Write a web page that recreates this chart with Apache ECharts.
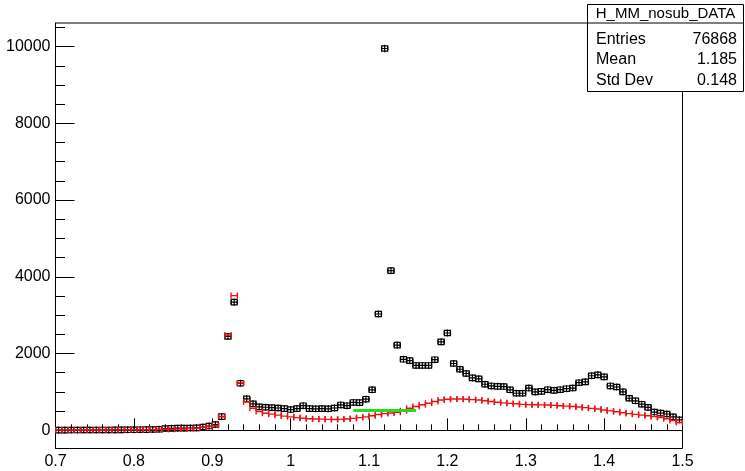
<!DOCTYPE html>
<html><head><meta charset="utf-8">
<script src="https://cdn.jsdelivr.net/npm/echarts@6/dist/echarts.min.js"></script>
<style>html,body{margin:0;padding:0;background:#fff}#c{width:745px;height:471px}</style>
</head><body><div id="c"></div>
<script>
// Histogram binning
const binLow = 0.7;
const binWidth = 0.008;

// Black points: H_MM_nosub_DATA (counts per bin, 100 bins from 0.7 to 1.5)
const dataCounts = [
  5,5,6,6,7,7,8,8,9,10,
  11,12,13,15,17,20,25,45,50,55,
  55,58,62,85,110,150,355,2445,3340,1225,
  820,690,610,600,590,580,565,540,565,640,
  565,560,565,560,580,660,640,725,720,810,
  1055,3030,9950,4160,2220,1850,1815,1690,1690,1690,
  1840,2305,2535,1740,1590,1480,1365,1340,1200,1155,
  1145,1140,1055,965,965,1100,1000,1013,1057,1040,
  1057,1083,1100,1240,1262,1421,1444,1392,1155,1128,
  1000,835,768,680,596,475,448,424,350,272
];

// Red histogram (counts per bin)
const refCounts = [
  5,5,6,6,7,7,8,8,9,10,
  11,12,13,14,15,17,19,25,28,31,
  35,42,55,75,100,125,360,2480,3510,1235,
  735,575,490,445,420,395,370,350,330,315,
  300,295,290,285,282,285,295,310,330,350,
  380,410,435,450,470,510,575,620,665,705,
  750,790,810,815,815,810,800,790,770,750,
  730,715,700,690,675,668,665,662,658,650,
  640,630,618,605,590,572,553,530,505,482,
  458,435,415,395,378,355,330,300,255,205
];

// Green line
const greenX = [1.08, 1.16];
const greenY = [515, 515];

// Axis ticks
const yTickValues = [0, 2000, 4000, 6000, 8000, 10000];
const yMinorTicks = [500,1000,1500,2500,3000,3500,4500,5000,5500,6500,7000,7500,8500,9000,9500,10500];

// Stats box
const statsTitle = 'H_MM_nosub_DATA';
const statsNames = ['Entries', 'Mean', 'Std Dev'];
const statsValues = ['76868', '1.185', '0.148'];

const blackData = dataCounts.map((v, i) => [binLow + binWidth * (i + 0.5), v, Math.sqrt(v)]);
const redData = refCounts.map((v, i) => [binLow + binWidth * (i + 0.5), v]);
const greenData = greenX.map((x, i) => [x, greenY[i]]);

const FONT = '"Liberation Sans", Arial, Helvetica, sans-serif';

function renderRed(params, api) {
  const x = api.value(0), y = api.value(1);
  const pL = api.coord([x - binWidth / 2, y]);
  const pR = api.coord([x + binWidth / 2, y]);
  const st = { stroke: '#ee1111', lineWidth: 1.4 };
  return { type: 'group', children: [
    { type: 'line', shape: { x1: pL[0], y1: pL[1], x2: pR[0], y2: pR[1] }, style: st },
    { type: 'line', shape: { x1: pL[0], y1: pL[1] - 3, x2: pL[0], y2: pL[1] + 3 }, style: st },
    { type: 'line', shape: { x1: pR[0], y1: pR[1] - 3, x2: pR[0], y2: pR[1] + 3 }, style: st }
  ]};
}

function renderBlack(params, api) {
  const x = api.value(0), y = api.value(1), e = api.value(2);
  const pL = api.coord([x - binWidth / 2, y]);
  const pR = api.coord([x + binWidth / 2, y]);
  const pC = api.coord([x, y]);
  const pT = api.coord([x, y + e]);
  const pB = api.coord([x, y - e]);
  const st = { stroke: '#000', lineWidth: 1.2 };
  const top = Math.min(pT[1], pC[1] - 3.5), bot = Math.max(pB[1], pC[1] + 3.5);
  return { type: 'group', children: [
    { type: 'line', shape: { x1: pL[0], y1: pL[1], x2: pR[0], y2: pR[1] }, style: st },
    { type: 'line', shape: { x1: pL[0], y1: pL[1] - 2, x2: pL[0], y2: pL[1] + 2 }, style: st },
    { type: 'line', shape: { x1: pR[0], y1: pR[1] - 2, x2: pR[0], y2: pR[1] + 2 }, style: st },
    { type: 'line', shape: { x1: pC[0], y1: top, x2: pC[0], y2: bot }, style: st },
    { type: 'rect', shape: { x: pC[0] - 3, y: pC[1] - 2.7, width: 6, height: 5.4 }, style: { fill: 'none', stroke: '#000', lineWidth: 1.2 } }
  ]};
}

const chart = echarts.init(document.getElementById('c'), null, { renderer: 'canvas' });
chart.setOption({
  animation: false,
  backgroundColor: '#fff',
  grid: { left: 55.5, right: 62.5, top: 23, bottom: 22.5, show: true, borderColor: '#000', borderWidth: 1, backgroundColor: 'transparent' },
  xAxis: [{
    type: 'value', min: 0.7, max: 1.5, interval: 0.1,
    axisLine: { show: true, lineStyle: { color: '#000', width: 1 } },
    axisTick: { show: true, inside: true, length: 12, lineStyle: { color: '#000' } },
    minorTick: { show: true, splitNumber: 5, length: 6, lineStyle: { color: '#000' } },
    axisLabel: { color: '#000', fontSize: 16, fontFamily: FONT, margin: 5, formatter: v => String(Math.round(v * 10) / 10) },
    splitLine: { show: false }
  }],
  yAxis: [{
    type: 'value', min: -475, max: 10615, position: 'left',
    axisLine: { show: true, lineStyle: { color: '#000', width: 1 } },
    axisTick: { show: true, inside: true, length: 19, customValues: yTickValues, lineStyle: { color: '#000' } },
    axisLabel: { color: '#000', fontSize: 16, fontFamily: FONT, margin: 5, customValues: yTickValues, formatter: v => String(v) },
    splitLine: { show: false }
  }, {
    type: 'value', min: -475, max: 10615, position: 'left',
    axisLine: { show: false },
    axisTick: { show: true, inside: true, length: 9.5, customValues: yMinorTicks, lineStyle: { color: '#000' } },
    axisLabel: { show: false },
    splitLine: { show: false }
  }],
  series: [
    { type: 'custom', name: 'data', renderItem: renderBlack, data: blackData, xAxisIndex: 0, yAxisIndex: 0, encode: { x: 0, y: 1 }, z: 2, clip: true },
    { type: 'custom', name: 'ref', renderItem: renderRed, data: redData, xAxisIndex: 0, yAxisIndex: 0, encode: { x: 0, y: 1 }, z: 3, clip: true },
    { type: 'line', name: 'green', data: greenData, symbol: 'none', lineStyle: { color: '#22dd22', width: 3 }, z: 4 }
  ],
  graphic: [
    { type: 'rect', shape: { x: 587.5, y: 4.5, width: 156, height: 87 }, style: { fill: '#fff', stroke: '#000', lineWidth: 1 }, z: 10 },
    { type: 'line', shape: { x1: 587.5, y1: 23, x2: 743.5, y2: 23 }, style: { stroke: '#000', lineWidth: 1 }, z: 11 },
    { type: 'text', x: 665.5, y: 14, style: { text: statsTitle, fill: '#000', font: '15px ' + FONT, textAlign: 'center', textVerticalAlign: 'middle' }, z: 11 },
    ...statsNames.map((n, i) => ({ type: 'text', x: 596, y: 39.5 + 20.3 * i, style: { text: n, fill: '#000', font: '16px ' + FONT, textAlign: 'left', textVerticalAlign: 'middle' }, z: 11 })),
    ...statsValues.map((v, i) => ({ type: 'text', x: 737, y: 39.5 + 20.3 * i, style: { text: v, fill: '#000', font: '16px ' + FONT, textAlign: 'right', textVerticalAlign: 'middle' }, z: 11 }))
  ]
});
</script>
</body></html>
